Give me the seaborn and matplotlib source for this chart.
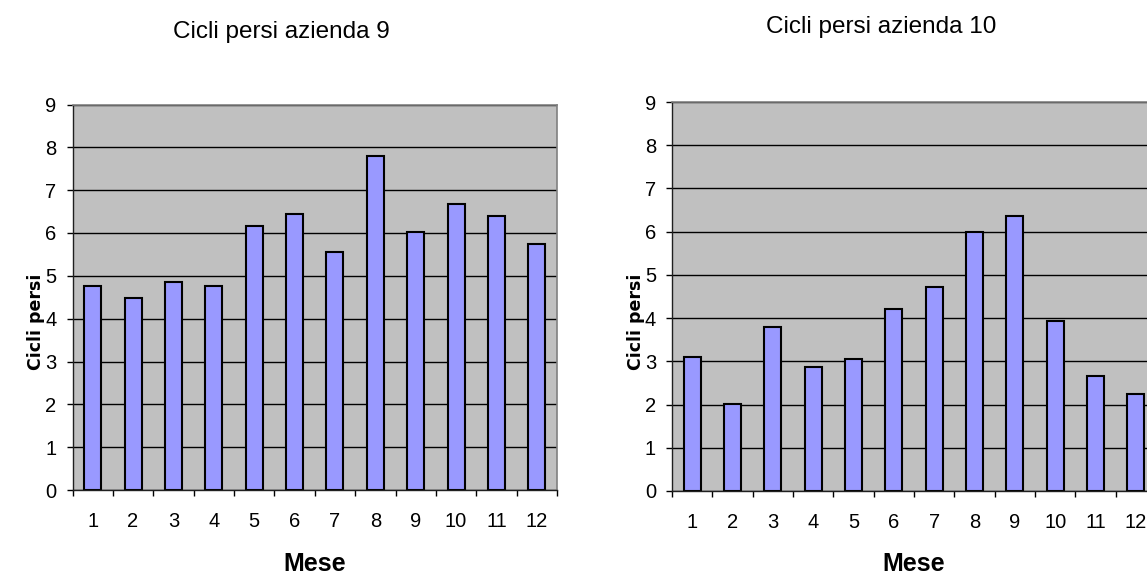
import numpy as np
import pandas as pd
import matplotlib
matplotlib.use("Agg")
import matplotlib.pyplot as plt
import seaborn as sns

# Monthly lost cycles for the two companies
mesi = ["1", "2", "3", "4", "5", "6", "7", "8", "9", "10", "11", "12"]
cicli_azienda_9 = [4.76, 4.49, 4.86, 4.76, 6.17, 6.45, 5.56, 7.80, 6.03, 6.68, 6.40, 5.75]
cicli_azienda_10 = [3.11, 2.01, 3.80, 2.88, 3.06, 4.21, 4.71, 6.00, 6.36, 3.94, 2.65, 2.24]
titoli = ["Cicli persi azienda 9", "Cicli persi azienda 10"]
y_ticks = list(range(0, 10))

sns.set_theme(style="white")
plt.rcParams["font.family"] = ["Liberation Sans Narrow", "Liberation Sans", "DejaVu Sans"]
for key in ("text.color", "axes.labelcolor", "xtick.color", "ytick.color"):
    plt.rcParams[key] = "black"

W, H = 1147, 575
fig = plt.figure(figsize=(W / 100, H / 100), dpi=100)
fig.patch.set_facecolor("white")

# axes boxes in pixels: (left, top, right, bottom)
boxes = [(72.5, 104.5, 557, 490), (672, 102, 1156, 491)]
serie = [cicli_azienda_9, cicli_azienda_10]
ylab_x = [36, 636]
title_base = [38, 33]

for box, valori, titolo, yx, tb in zip(boxes, serie, titoli, ylab_x, title_base):
    l, t, r, b = box
    ax = fig.add_axes([l / W, (H - b) / H, (r - l) / W, (b - t) / H])
    ax.set_facecolor("#C0C0C0")
    df = pd.DataFrame({"Mese": mesi, "Cicli persi": valori})
    sns.barplot(data=df, x="Mese", y="Cicli persi", order=mesi, color="#9999FF",
                saturation=1, width=0.42, edgecolor="black", linewidth=1.5, ax=ax)
    ax.set_xlim(-0.5, len(mesi) - 0.5)
    ax.set_ylim(0, 9)
    ax.set_yticks(y_ticks)
    ax.set_yticklabels([str(v) for v in y_ticks], fontsize=14.5)
    ax.yaxis.grid(True, color="black", linewidth=1.0)
    ax.set_axisbelow(True)

    # category boundary ticks, labels centred on each bar
    ax.set_xticks(np.arange(-0.5, len(mesi), 1.0))
    ax.set_xticklabels([])
    ax.set_xticks(np.arange(len(mesi)), minor=True)
    ax.set_xticklabels(mesi, minor=True, fontsize=14.5)
    ax.tick_params(axis="x", which="major", direction="out", length=4, width=1,
                   color="black", bottom=True)
    ax.tick_params(axis="x", which="minor", length=0, pad=16, bottom=True)
    ax.tick_params(axis="y", direction="out", length=4, width=1, color="black",
                   pad=7.5, left=True)

    for side in ("top", "right"):
        ax.spines[side].set_visible(True)
        ax.spines[side].set_color("#808080")
        ax.spines[side].set_linewidth(1.2)
    for side in ("left", "bottom"):
        ax.spines[side].set_color("#202020")
        ax.spines[side].set_linewidth(1.0)

    ax.set_xlabel("Mese", fontsize=18, fontweight="bold", va="center")
    ax.xaxis.set_label_coords(0.5, (b - 564) / (b - t))
    ax.set_ylabel("Cicli persi", fontsize=12.5, fontweight="bold",
                  family=["DejaVu Sans"], va="center", ha="center")
    ax.yaxis.set_label_coords((yx - l) / (r - l), (b - 322) / (b - t))

    ax.set_title(titolo, fontsize=17.5, family=["Liberation Sans", "DejaVu Sans"],
                 x=(l + (r - l) / 2 - 33 - l) / (r - l), y=(b - tb) / (b - t),
                 pad=0, va="baseline", ha="center")

fig.savefig("out.png", dpi=100, facecolor="white")
